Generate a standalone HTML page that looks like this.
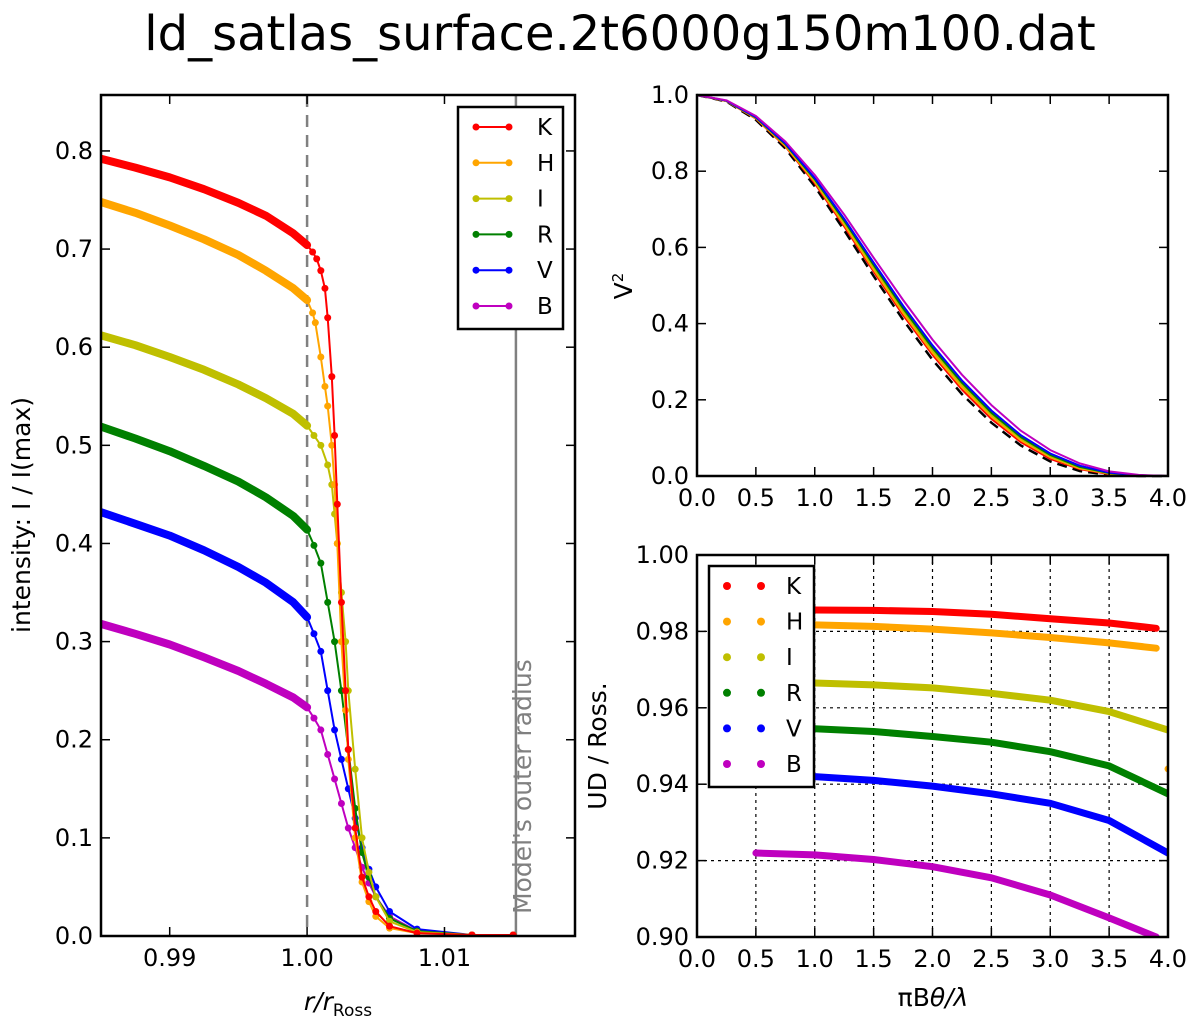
<!DOCTYPE html>
<html><head><meta charset="utf-8"><style>
body{margin:0;background:#fff;}
svg text{font-family:"DejaVu Sans","Liberation Sans",sans-serif;}
</style></head><body>
<svg id="fig" width="1200" height="1027" xmlns="http://www.w3.org/2000/svg">
<rect width="1200" height="1027" fill="#fff"/>
<text x="620" y="50" font-size="48" text-anchor="middle">ld_satlas_surface.2t6000g150m100.dat</text>
<g id="p1"></g>
<g id="p2"></g>
<g id="p3"></g>
</svg>
<script>
const NS="http://www.w3.org/2000/svg";
const bands=["K","H","I","R","V","B"];
const colors=["#ff0000","#ffa500","#bfbf00","#008000","#0000ff","#bf00bf"];
// Panel 1: intensity profiles (r, I)
const rK=[0.985,0.9875,0.99,0.9925,0.995,0.997,0.999,1.0,1.0004,1.0007,1.001,1.0013,1.0015,1.0018,1.002,1.0022,1.0025,1.0028,1.003,1.0035,1.004,1.0045,1.005,1.006,1.008,1.012,1.015];
const iK=[0.792,0.783,0.773,0.761,0.747,0.734,0.716,0.704,0.697,0.69,0.678,0.66,0.63,0.57,0.51,0.44,0.34,0.25,0.19,0.11,0.06,0.04,0.025,0.01,0.003,0.001,0.001];
const rH=[0.985,0.9875,0.99,0.9925,0.995,0.997,0.999,1.0,1.0004,1.0006,1.001,1.0013,1.0015,1.0018,1.002,1.0022,1.0025,1.0028,1.003,1.0035,1.004,1.0045,1.005,1.006,1.008,1.012,1.015];
const iH=[0.748,0.737,0.724,0.71,0.694,0.678,0.66,0.648,0.635,0.625,0.59,0.56,0.54,0.5,0.46,0.4,0.3,0.23,0.18,0.1,0.055,0.035,0.02,0.008,0.003,0.001,0.001];
const rI=[0.985,0.9875,0.99,0.9925,0.995,0.997,0.999,1.0,1.0005,1.001,1.0015,1.0018,1.002,1.0022,1.0025,1.0028,1.003,1.0035,1.004,1.0045,1.005,1.006,1.008,1.012,1.015];
const iI=[0.612,0.602,0.59,0.577,0.562,0.548,0.532,0.52,0.51,0.5,0.48,0.46,0.43,0.4,0.35,0.3,0.25,0.17,0.1,0.065,0.04,0.015,0.004,0.001,0.001];
const rR=[0.985,0.9875,0.99,0.9925,0.995,0.997,0.999,1.0,1.0005,1.001,1.0015,1.002,1.0025,1.003,1.0035,1.004,1.0045,1.005,1.006,1.008,1.012,1.015];
const iR=[0.519,0.507,0.494,0.479,0.463,0.447,0.428,0.414,0.398,0.38,0.34,0.3,0.25,0.19,0.13,0.085,0.06,0.04,0.018,0.005,0.001,0.001];
const rV=[0.985,0.9875,0.99,0.9925,0.995,0.997,0.999,1.0,1.0005,1.001,1.0015,1.002,1.0025,1.003,1.0035,1.004,1.0045,1.005,1.006,1.008,1.012,1.015];
const iV=[0.432,0.42,0.408,0.393,0.376,0.36,0.34,0.325,0.308,0.29,0.25,0.21,0.18,0.15,0.12,0.09,0.068,0.05,0.025,0.007,0.001,0.001];
const rB=[0.985,0.9875,0.99,0.9925,0.995,0.997,0.999,1.0,1.0005,1.001,1.0015,1.002,1.0025,1.003,1.0035,1.004,1.0045,1.005,1.006,1.008,1.012,1.015];
const iB=[0.318,0.308,0.297,0.284,0.27,0.257,0.243,0.233,0.222,0.21,0.185,0.16,0.135,0.11,0.09,0.07,0.054,0.04,0.02,0.005,0.001,0.001];
const p1X=[0.99,1.00,1.01];
const p1XLabels=["0.99","1.00","1.01"];
const p1Y=[0,0.1,0.2,0.3,0.4,0.5,0.6,0.7,0.8];
const p1YLabels=["0.0","0.1","0.2","0.3","0.4","0.5","0.6","0.7","0.8"];
// Panel 2: V^2 vs baseline
const vx=[0,0.25,0.5,0.75,1,1.25,1.5,1.75,2,2.25,2.5,2.75,3,3.25,3.5,3.75,4];
const vDash=[1,0.983,0.935,0.86,0.76,0.645,0.525,0.41,0.305,0.215,0.14,0.08,0.038,0.013,0.003,0,0];
const vK=[1,0.984,0.938,0.865,0.768,0.655,0.537,0.422,0.318,0.227,0.15,0.089,0.045,0.018,0.005,0.001,0];
const vH=[1,0.984,0.939,0.867,0.772,0.66,0.542,0.428,0.324,0.233,0.156,0.094,0.049,0.02,0.006,0.001,0];
const vI=[1,0.985,0.94,0.869,0.775,0.665,0.548,0.434,0.33,0.239,0.161,0.098,0.052,0.022,0.007,0.001,0];
const vR=[1,0.985,0.941,0.871,0.779,0.67,0.554,0.44,0.336,0.245,0.166,0.102,0.055,0.024,0.008,0.002,0];
const vV=[1,0.985,0.942,0.873,0.782,0.675,0.56,0.447,0.343,0.251,0.172,0.107,0.059,0.027,0.009,0.002,0];
const vB=[1,0.986,0.945,0.878,0.79,0.686,0.573,0.462,0.358,0.266,0.186,0.119,0.068,0.033,0.012,0.003,0];
const p2X=[0,0.5,1,1.5,2,2.5,3,3.5,4];
const p2XLabels=["0.0","0.5","1.0","1.5","2.0","2.5","3.0","3.5","4.0"];
const p2Y=[0,0.2,0.4,0.6,0.8,1.0];
const p2YLabels=["0.0","0.2","0.4","0.6","0.8","1.0"];
// Panel 3: UD / Ross
const ux=[0.5,1,1.5,2,2.5,3,3.5,3.9];
const uK=[0.9856,0.9856,0.9855,0.9852,0.9845,0.9833,0.9822,0.9808];
const uH=[0.9818,0.9817,0.9813,0.9806,0.9796,0.9784,0.977,0.9756];
const uxI=[0.5,1,1.5,2,2.5,3,3.5,4];
const uI=[0.967,0.9665,0.966,0.9652,0.9638,0.962,0.959,0.9542];
const uR=[0.955,0.9545,0.9538,0.9525,0.951,0.9485,0.9448,0.9375];
const uV=[0.9423,0.942,0.941,0.9395,0.9375,0.935,0.9305,0.922];
const uxB=[0.5,1,1.5,2,2.5,3,3.5,3.9];
const uB=[0.922,0.9215,0.9203,0.9184,0.9155,0.911,0.905,0.9];
const p3Y=[0.90,0.92,0.94,0.96,0.98,1.00];
const p3YLabels=["0.90","0.92","0.94","0.96","0.98","1.00"];

function el(parent,tag,attrs,text){const e=document.createElementNS(NS,tag);for(const k in attrs)e.setAttribute(k,attrs[k]);if(text!==undefined)e.textContent=text;parent.appendChild(e);return e;}
function scale(d0,d1,r0,r1){return v=>r0+(v-d0)/(d1-d0)*(r1-r0);}
function pts(xs,ys,sx,sy){return xs.map((x,i)=>sx(x).toFixed(1)+","+sy(ys[i]).toFixed(1)).join(" ");}
function axes(g,L,T,R,B,sx,sy,xt,xl,yt,yl){
  const f=el(g,"rect",{x:L,y:T,width:R-L,height:B-T,fill:"none",stroke:"#000","stroke-width":2.5});
  
  xt.forEach((v,i)=>{const x=sx(v);
    el(g,"line",{x1:x,y1:B,x2:x,y2:B-9,stroke:"#000","stroke-width":1.5});
    el(g,"line",{x1:x,y1:T,x2:x,y2:T+9,stroke:"#000","stroke-width":1.5});
    const t=el(g,"text",{x:x,y:B+30,"font-size":24,"text-anchor":"middle"},xl[i]);
    });
  yt.forEach((v,i)=>{const y=sy(v);
    el(g,"line",{x1:L,y1:y,x2:L+9,y2:y,stroke:"#000","stroke-width":1.5});
    el(g,"line",{x1:R,y1:y,x2:R-9,y2:y,stroke:"#000","stroke-width":1.5});
    const t=el(g,"text",{x:L-8,y:y+8,"font-size":24,"text-anchor":"end"},yl[i]);
    });
}
// ---- Panel 1
(function(){
  const g=document.getElementById("p1");
  const L=101,T=95,R=575,B=936;
  const sx=scale(0.985,1.0195,L,R), sy=scale(0,0.857,B,T);
  const cp=el(g,"clipPath",{id:"c1"});el(cp,"rect",{x:L,y:T,width:R-L,height:B-T});
  const d=el(g,"g",{"clip-path":"url(#c1)"});
  const dl=el(d,"line",{x1:sx(1.0),y1:T,x2:sx(1.0),y2:B,stroke:"#808080","stroke-width":2.5,"stroke-dasharray":"12,8"});
  
  const ol=el(d,"line",{x1:sx(1.0152),y1:T,x2:sx(1.0152),y2:B,stroke:"#808080","stroke-width":2.5});
  
  const rs=[rK,rH,rI,rR,rV,rB], is=[iK,iH,iI,iR,iV,iB];
  for(let k=5;k>=0;k--){
    const s=el(d,"g",{});
    
    const cut=rs[k].findIndex(r=>r>1.0);
    el(s,"polyline",{points:pts(rs[k].slice(0,cut),is[k].slice(0,cut),sx,sy),fill:"none",stroke:colors[k],"stroke-width":8,"stroke-linecap":"round","stroke-linejoin":"round"});
    el(s,"polyline",{points:pts(rs[k],is[k],sx,sy),fill:"none",stroke:colors[k],"stroke-width":2});
    rs[k].forEach((r,i)=>{if(r>=1.0)el(s,"circle",{cx:sx(r),cy:sy(is[k][i]),r:3.5,fill:colors[k]});});
  }
  axes(g,L,T,R,B,sx,sy,p1X,p1XLabels,p1Y,p1YLabels);
  const ot=el(g,"text",{transform:"translate(531,914) rotate(-90)","font-size":25,fill:"#808080"},"Model's outer radius");
  
  const yl=el(g,"text",{transform:"translate(30,515) rotate(-90)","font-size":25,"text-anchor":"middle"},"intensity: I / I(max)");
  
  const xl=el(g,"text",{x:338,y:1010,"font-size":25,"text-anchor":"middle","font-family":"Liberation Serif, serif"});
  
  el(xl,"tspan",{"font-style":"italic"},"r/r");
  el(xl,"tspan",{dy:6,"font-size":17},"Ross");
  const lg=el(g,"g",{});
  
  el(lg,"rect",{x:458,y:107,width:105,height:222,fill:"#fff",stroke:"#000","stroke-width":2.5});
  bands.forEach((b,k)=>{const y=127+k*35.8;
    const e=el(lg,"g",{});
    
    el(e,"line",{x1:476,y1:y,x2:509,y2:y,stroke:colors[k],"stroke-width":2});
    el(e,"circle",{cx:476,cy:y,r:3.5,fill:colors[k]});el(e,"circle",{cx:509,cy:y,r:3.5,fill:colors[k]});
    el(e,"text",{x:537,y:y+8,"font-size":23},b);});
})();
// ---- Panel 2
(function(){
  const g=document.getElementById("p2");
  const L=697,T=95,R=1168,B=476;
  const sx=scale(0,4,L,R), sy=scale(0,1,B,T);
  const vs=[vK,vH,vI,vR,vV,vB];
  const dd=el(g,"polyline",{points:pts(vx,vDash,sx,sy),fill:"none",stroke:"#000","stroke-width":2.5,"stroke-dasharray":"10,6"});
  
  for(let k=0;k<6;k++){
    const p=el(g,"polyline",{points:pts(vx,vs[k],sx,sy),fill:"none",stroke:colors[k],"stroke-width":2,"stroke-linejoin":"round"});
    
  }
  axes(g,L,T,R,B,sx,sy,p2X,p2XLabels,p2Y,p2YLabels);
  const yl=el(g,"text",{transform:"translate(632,286) rotate(-90)","font-size":25,"text-anchor":"middle"});
  
  el(yl,"tspan",{},"V");el(yl,"tspan",{dy:-9,"font-size":15},"2");
})();
// ---- Panel 3
(function(){
  const g=document.getElementById("p3");
  const L=697,T=555,R=1168,B=937;
  const sx=scale(0,4,L,R), sy=scale(0.9,1.0,B,T);
  p2X.forEach(v=>el(g,"line",{x1:sx(v),y1:T,x2:sx(v),y2:B,stroke:"#000","stroke-width":1.2,"stroke-dasharray":"3,4"}));
  p3Y.forEach(v=>el(g,"line",{x1:L,y1:sy(v),x2:R,y2:sy(v),stroke:"#000","stroke-width":1.2,"stroke-dasharray":"3,4"}));
  const cp=el(g,"clipPath",{id:"c3"});el(cp,"rect",{x:L,y:T,width:R-L,height:B-T});
  const d=el(g,"g",{"clip-path":"url(#c3)"});
  const xs=[ux,ux,uxI,uxI,uxI,uxB], ys=[uK,uH,uI,uR,uV,uB];
  for(let k=0;k<6;k++){
    const p=el(d,"polyline",{points:pts(xs[k],ys[k],sx,sy),fill:"none",stroke:colors[k],"stroke-width":7,"stroke-linecap":"round","stroke-linejoin":"round"});
    
  }
  el(d,"circle",{cx:sx(4.0),cy:sy(0.944),r:3.5,fill:colors[1]});
  axes(g,L,T,R,B,sx,sy,p2X,p2XLabels,p3Y,p3YLabels);
  const yl=el(g,"text",{transform:"translate(606,746) rotate(-90)","font-size":25,"text-anchor":"middle"},"UD / Ross.");
  
  const xl=el(g,"text",{x:933,y:1006,"font-size":25,"text-anchor":"middle","font-family":"Liberation Serif, serif"});
  
  el(xl,"tspan",{},"πB");el(xl,"tspan",{"font-style":"italic"},"θ/λ");
  const lg=el(g,"g",{});
  
  el(lg,"rect",{x:709,y:566,width:105,height:221,fill:"#fff",stroke:"#000","stroke-width":2.5});
  bands.forEach((b,k)=>{const y=586+k*35.6;
    const e=el(lg,"g",{});
    
    el(e,"circle",{cx:727,cy:y,r:4,fill:colors[k]});el(e,"circle",{cx:761,cy:y,r:4,fill:colors[k]});
    el(e,"text",{x:786,y:y+8,"font-size":23},b);});
})();
</script>
</body></html>
